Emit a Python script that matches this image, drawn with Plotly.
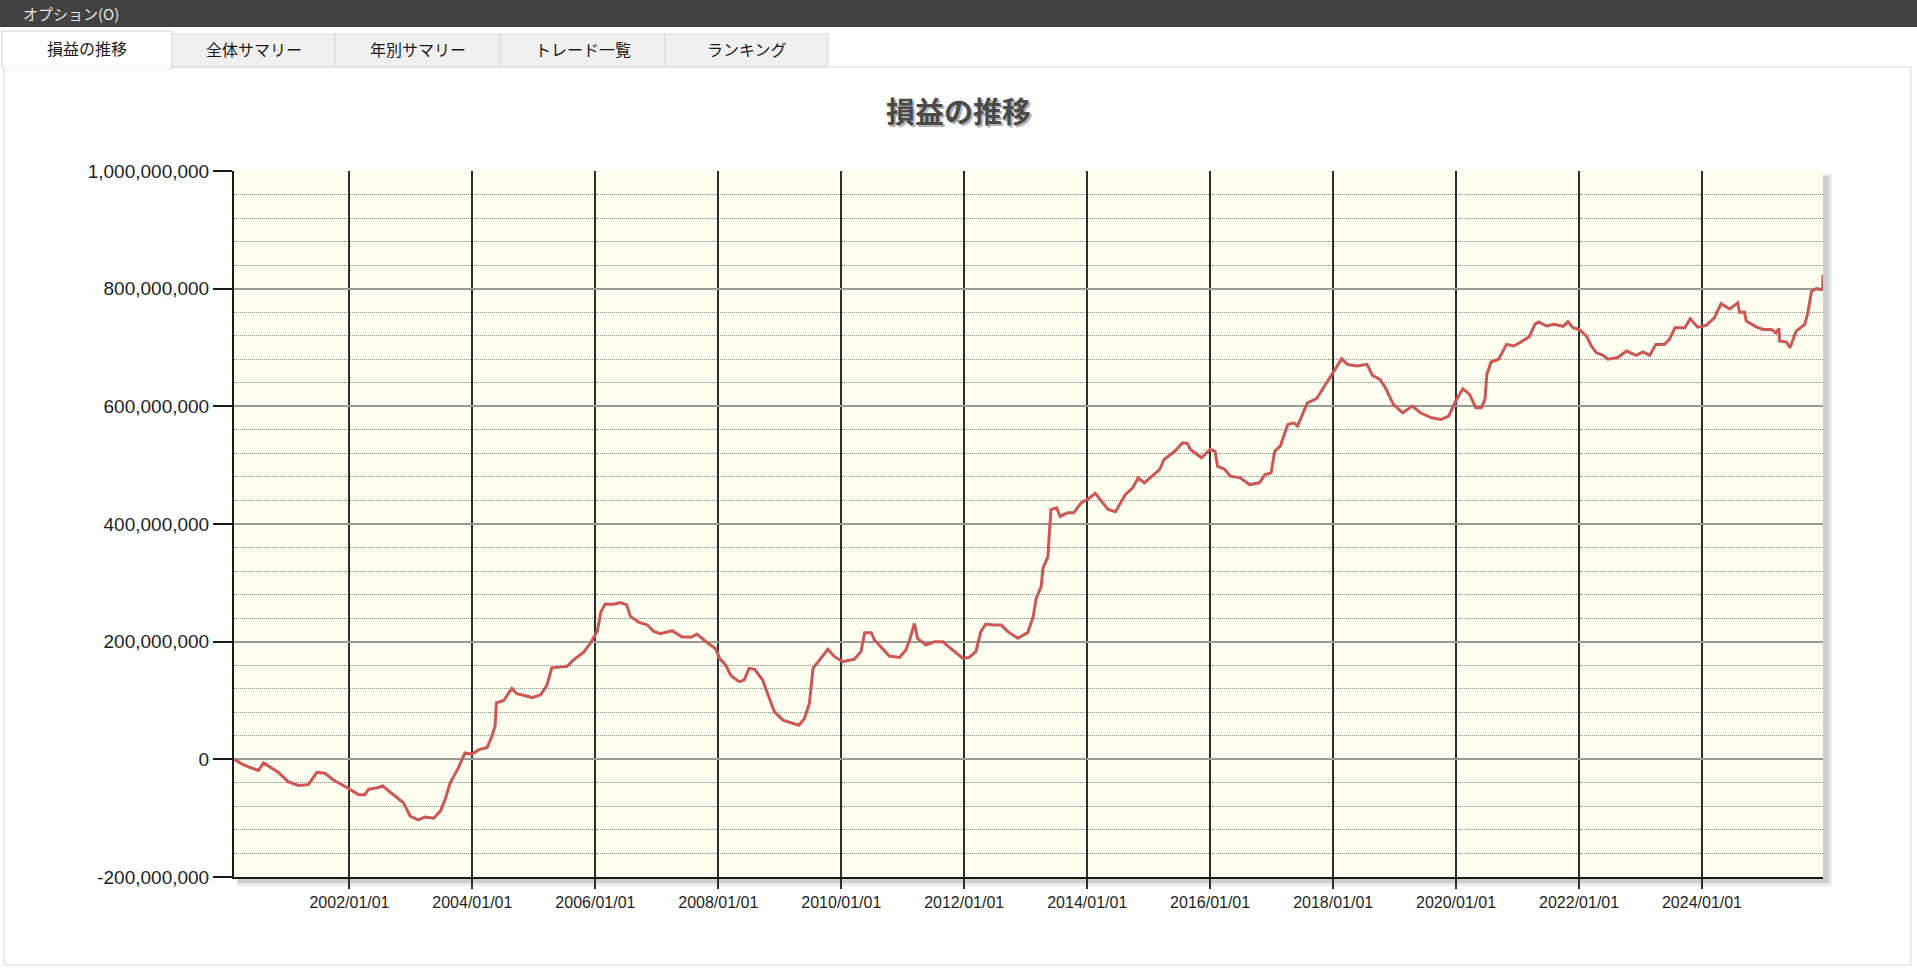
import plotly.graph_objects as go
import pandas as pd

# ---------------- data ----------------
year_pos = [
    2000.125, 2000.27, 2000.38, 2000.52, 2000.60, 2000.71, 2000.84, 2001.00, 2001.17, 2001.33,
    2001.47, 2001.60, 2001.74, 2001.90, 2002.15, 2002.25, 2002.31, 2002.47, 2002.54, 2002.63,
    2002.77, 2002.88, 2002.99, 2003.12, 2003.23, 2003.37, 2003.48, 2003.56, 2003.64, 2003.77,
    2003.88, 2003.99, 2004.10, 2004.24, 2004.32, 2004.37, 2004.39, 2004.51, 2004.64, 2004.72,
    2004.83, 2004.97, 2005.11, 2005.21, 2005.29, 2005.54, 2005.65, 2005.81, 2005.92, 2006.03,
    2006.09, 2006.16, 2006.30, 2006.41, 2006.51, 2006.57, 2006.71, 2006.84, 2006.95, 2007.06,
    2007.25, 2007.41, 2007.57, 2007.65, 2007.80, 2007.96,
    2008.02, 2008.12, 2008.21, 2008.34, 2008.42, 2008.50, 2008.59, 2008.72, 2008.80, 2008.91,
    2009.05, 2009.18, 2009.31, 2009.40, 2009.48, 2009.54, 2009.64, 2009.78, 2009.89, 2010.02,
    2010.21, 2010.32, 2010.38, 2010.49, 2010.54, 2010.65, 2010.78, 2010.95, 2011.05, 2011.12,
    2011.19, 2011.24, 2011.38, 2011.52, 2011.65, 2011.76, 2011.89, 2011.98, 2012.08, 2012.19,
    2012.27, 2012.35, 2012.46, 2012.60, 2012.71, 2012.87, 2013.03, 2013.12, 2013.17, 2013.25,
    2013.28, 2013.36, 2013.38, 2013.41, 2013.50, 2013.56, 2013.68, 2013.78, 2013.90, 2014.02,
    2014.13, 2014.21, 2014.34, 2014.46, 2014.55, 2014.62, 2014.74, 2014.83, 2014.93, 2015.02,
    2015.18, 2015.25, 2015.43, 2015.55, 2015.63, 2015.68, 2015.86, 2016.00, 2016.08, 2016.12,
    2016.24, 2016.33, 2016.49, 2016.64, 2016.80, 2016.89, 2016.99, 2017.05, 2017.14, 2017.26,
    2017.36, 2017.42, 2017.58, 2017.73, 2017.86, 2017.98, 2018.14, 2018.23, 2018.39, 2018.55,
    2018.64, 2018.76, 2018.85, 2018.98, 2019.13, 2019.29, 2019.42, 2019.60, 2019.76, 2019.88,
    2019.98, 2020.11, 2020.22, 2020.32, 2020.41, 2020.47, 2020.50, 2020.57, 2020.69, 2020.82,
    2020.94, 2021.03, 2021.19, 2021.28, 2021.34, 2021.47, 2021.59, 2021.74, 2021.82, 2021.90,
    2022.00, 2022.12, 2022.20, 2022.28, 2022.39, 2022.47, 2022.63, 2022.77, 2022.93, 2023.04,
    2023.15, 2023.25, 2023.39, 2023.47, 2023.56, 2023.72, 2023.81, 2023.93, 2024.07, 2024.20,
    2024.31, 2024.45, 2024.58, 2024.61, 2024.69, 2024.72, 2024.88, 2024.99, 2025.13, 2025.20,
    2025.25, 2025.26, 2025.37, 2025.43, 2025.53, 2025.67, 2025.72, 2025.78, 2025.86, 2025.96,
    2025.97,
]
pnl_million = [
    0, -9, -13.5, -19, -6, -13.5, -22, -38, -44.5, -43,
    -22, -23.7, -35, -44.5, -60, -60, -51, -48, -45, -53,
    -64, -74, -97, -103, -98, -100, -88, -67, -40, -15,
    11, 8.5, 16, 20, 40, 57, 96, 100, 120.6, 111.5,
    109, 105, 110, 125.6, 155.5, 158, 169.6, 182, 197.7, 217.5,
    251, 264, 263.7, 266.5, 262.5, 243, 232.7, 228.7, 217.5, 213.5,
    218.6, 208, 208, 213, 200, 187.5,
    171.6, 160, 141.6, 132, 134.7, 154.6, 153, 134.7, 112, 81,
    66.7, 62, 58, 69.5, 95, 154.6, 168.8, 187, 174.5, 166,
    170, 183, 215.3, 215.3, 202.8, 189.8, 175.6, 173.3, 185.8, 205.7,
    231, 205.7, 194.3, 200, 200, 190.4, 180, 171.6, 173.3, 183,
    217, 230, 228.4, 228.4, 217, 205.7, 215.3, 242.5, 273.8, 293.6,
    324.8, 344.7, 379, 424.6, 427.5, 413, 419, 419, 436, 443,
    452, 441.7, 424.6, 421, 436, 450, 461.5, 478.5, 470, 478.5,
    492.7, 509.7, 524, 538, 537, 526.7, 512.5, 526.7, 524, 498.4,
    492.7, 481.3, 478.5, 467, 470, 484, 487, 524, 532.4, 569.2,
    572, 566.4, 606, 613, 634.4, 654.3, 681, 671.3, 668.5, 671.3,
    652.6, 645.8, 631.6, 603.3, 589, 600.4, 589, 580.6, 577.7, 583.4,
    606, 630, 620.4, 597.6, 597.6, 611.8, 654.3, 675.3, 680, 705.3,
    702.5, 708, 718.4, 739.3, 743.3, 736.5, 739.3, 736, 743.7, 733.5,
    730.7, 719.4, 702.5, 691.3, 686.8, 680, 683, 694, 686.8, 692.4,
    686.8, 705.3, 705.3, 713.8, 733.5, 733.5, 748.7, 734.6, 737.5, 750.4,
    774.6, 765.6, 775.8, 760, 760, 744.8, 735.2, 730.7, 730.7, 725,
    732.4, 711, 709.3, 699.7, 727.9, 739.2, 758.9, 795.5, 800, 798.3,
    823.7,
]

x_tick_dates = ["2002-01-01", "2004-01-01", "2006-01-01", "2008-01-01", "2010-01-01", "2012-01-01",
                "2014-01-01", "2016-01-01", "2018-01-01", "2020-01-01", "2022-01-01", "2024-01-01"]
x_tick_labels = ["2002/01/01", "2004/01/01", "2006/01/01", "2008/01/01", "2010/01/01", "2012/01/01",
                 "2014/01/01", "2016/01/01", "2018/01/01", "2020/01/01", "2022/01/01", "2024/01/01"]
y_tick_million = [-200, 0, 200, 400, 600, 800, 1000]
y_tick_labels = ["-200,000,000", "0", "200,000,000", "400,000,000", "600,000,000",
                 "800,000,000", "1,000,000,000"]
x_range = ["2000-02-15", "2025-12-20"]
y_range_million = [-200, 1000]

chart_title = "損益の推移"
menu_label = "オプション(O)"
tab_labels = ["損益の推移", "全体サマリー", "年別サマリー", "トレード一覧", "ランキング"]


def year_to_date(y):
    yr = int(y)
    start = pd.Timestamp(yr, 1, 1)
    end = pd.Timestamp(yr + 1, 1, 1)
    return start + (end - start) * (y - yr)


dates = [year_to_date(v) for v in year_pos]
values = [v * 1e6 for v in pnl_million]

# ---------------- geometry (pixels) ----------------
W, H = 1917, 970
L, R, T, B = 234, 1823, 171, 877


def fx(p):
    return (p - L) / (R - L)


def fy(p):
    return (B - p) / (B - T)


def rect(x0, y0, x1, y1, fill, line="rgba(0,0,0,0)", lw=0, layer="below"):
    return dict(type="rect", xref="paper", yref="paper",
                x0=fx(x0), x1=fx(x1), y0=fy(y0), y1=fy(y1),
                fillcolor=fill, line=dict(color=line, width=lw), layer=layer)


shapes = []
# panel
shapes.append(rect(4, 67, 1911, 965, "#FFFFFF", "#D9D9D9", 1))
# dark menu bar
shapes.append(rect(0, 0, W, 27, "#424242"))
# tabs
tab_edges = [(2, 172), (172, 335), (335, 500), (500, 665), (665, 828)]
for i, (a, b) in enumerate(tab_edges):
    if i == 0:
        shapes.append(rect(a, 31, b, 68, "#FFFFFF", "#D0D0D0", 1))
    else:
        shapes.append(rect(a, 34, b, 67, "#F0F0F0", "#D9D9D9", 1))
shapes.append(dict(type="line", xref="paper", yref="paper", x0=fx(3), x1=fx(171),
                   y0=fy(67.5), y1=fy(67.5), line=dict(color="#FFFFFF", width=2), layer="below"))
# plot shadow and background
shapes.append(rect(L + 3, T + 3, R + 9, B + 9, "#EBEBEB"))
shapes.append(rect(L + 4, T + 5, R + 6, B + 6, "#CFCFCF"))
shapes.append(rect(L, T, R, B, "#FFFFF0"))

annotations = []
annotations.append(dict(text=menu_label, xref="paper", yref="paper", x=fx(21), y=fy(13.5),
                        xanchor="left", yanchor="middle", showarrow=False,
                        font=dict(family="Noto Sans CJK JP", size=15, color="#E6E6E6")))
for i, ((a, b), lab) in enumerate(zip(tab_edges, tab_labels)):
    annotations.append(dict(text=lab, xref="paper", yref="paper", x=fx((a + b) / 2), y=fy(49 if i else 48),
                            xanchor="center", yanchor="middle", showarrow=False,
                            font=dict(family="Noto Sans CJK JP", size=16, color="#1A1A1A")))
# title with soft shadow
annotations.append(dict(text="<b>" + chart_title + "</b>", xref="paper", yref="paper",
                        x=fx(960), y=fy(112), xanchor="center", yanchor="middle", showarrow=False,
                        font=dict(family="Noto Sans CJK JP", size=29, color="#B4B4B4")))
annotations.append(dict(text="<b>" + chart_title + "</b>", xref="paper", yref="paper",
                        x=fx(958), y=fy(110), xanchor="center", yanchor="middle", showarrow=False,
                        font=dict(family="Noto Sans CJK JP", size=29, color="#4A4A4A")))

fig = go.Figure()
fig.add_trace(go.Scatter(x=dates, y=values, mode="lines",
                         line=dict(color="#CD5656", width=3), hoverinfo="skip", showlegend=False))

fig.update_layout(
    template="none",
    width=W, height=H,
    margin=dict(l=L, r=W - R, t=T, b=H - B, pad=0),
    paper_bgcolor="#FFFFFF",
    plot_bgcolor="rgba(0,0,0,0)",
    shapes=shapes,
    annotations=annotations,
    showlegend=False,
    xaxis=dict(
        type="date", range=x_range, automargin=False,
        tickmode="array", tickvals=x_tick_dates, ticktext=x_tick_labels,
        showgrid=True, gridcolor="#2E2E2E", gridwidth=1.5,
        ticks="outside", ticklen=10, tickwidth=1.5, tickcolor="#2E2E2E",
        showline=True, linecolor="#1A1A1A", linewidth=2, mirror=False,
        zeroline=False,
        tickfont=dict(family="Liberation Sans", size=16, color="#1E1E1E"),
    ),
    yaxis=dict(
        range=[y_range_million[0] * 1e6, y_range_million[1] * 1e6], automargin=False,
        tickmode="array", tickvals=[v * 1e6 for v in y_tick_million], ticktext=y_tick_labels,
        showgrid=True, gridcolor="#9A9A9A", gridwidth=1.5,
        ticks="outside", ticklen=19, tickwidth=1.5, tickcolor="#1A1A1A",
        showline=True, linecolor="#1A1A1A", linewidth=2,
        zeroline=False,
        tickfont=dict(family="Liberation Sans", size=19, color="#1E1E1E"),
        minor=dict(tick0=0, dtick=40e6, showgrid=True, gridcolor="#8A8A8A",
                   griddash="1px,1px", gridwidth=1, ticks=""),
    ),
)

fig.write_html("out.html", config={"displayModeBar": False},
               post_script="document.body.style.margin='0';document.body.style.overflow='hidden';")
